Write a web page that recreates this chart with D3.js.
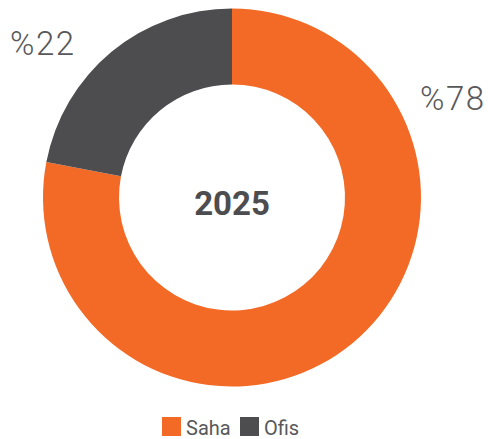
<!DOCTYPE html>
<html><head><meta charset="utf-8">
<script src="https://cdn.jsdelivr.net/npm/d3@7"></script>
<style>body{margin:0;background:#fff}svg{display:block}</style>
</head><body>
<script>
const categories = ["Saha", "Ofis"];
const values = [78, 22];
const labels = ["%78", "%22"];
const centerTitle = "2025";
const colors = ["#F26A25", "#4D4D4F"];

const W = 488, H = 439;
const cx = 232, cy = 197.5, rOuter = 189, rInner = 113;
const svg = d3.select("body").append("svg").attr("width", W).attr("height", H);
const g = svg.append("g").attr("transform", `translate(${cx},${cy})`);
const pie = d3.pie().sort(null).value(d => d)(values);
const arc = d3.arc().innerRadius(rInner).outerRadius(rOuter);
const color = d3.scaleOrdinal().domain(categories).range(colors);

g.selectAll("path").data(pie).join("path")
  .attr("d", arc).attr("fill", (d, i) => color(categories[i]));

g.append("text").text(centerTitle)
  .attr("text-anchor", "middle").attr("y", 17.5)
  .attr("font-family", "Roboto").attr("font-weight", 700).attr("font-size", 33)
  .attr("fill", "#4D4D4F");

// outer labels
const labelPos = [{x: 420, y: 110}, {x: 10, y: 55}];
svg.selectAll("text.lbl").data(pie).join("text").attr("class", "lbl")
  .text((d, i) => labels[i])
  .attr("x", (d, i) => labelPos[i].x).attr("y", (d, i) => labelPos[i].y)
  .attr("font-family", "Roboto").attr("font-weight", 300).attr("font-size", 33)
  .attr("letter-spacing", 1.5)
  .attr("fill", "#58585A");

// legend
const legend = svg.append("g").attr("transform", "translate(162,417)");
const items = [{x: 0}, {x: 78}];
categories.forEach((c, i) => {
  const it = legend.append("g").attr("transform", `translate(${items[i].x},0)`);
  it.append("rect").attr("width", 19).attr("height", 19).attr("fill", color(c));
  it.append("text").text(c).attr("x", 24).attr("y", 18)
    .attr("font-family", "Roboto").attr("font-size", 20).attr("fill", "#58585A");
});
</script>
</body></html>
